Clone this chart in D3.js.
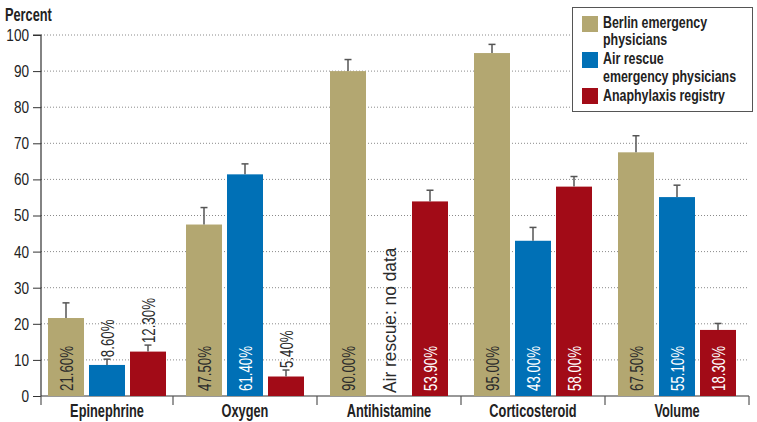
<!DOCTYPE html>
<html>
<head>
<meta charset="utf-8">
<script src="https://cdn.jsdelivr.net/npm/d3@7"></script>
<style>
  html, body { margin: 0; padding: 0; background: #fff; }
  svg { display: block; }
  text { font-family: "Liberation Sans", Arial, "Helvetica", sans-serif; }
</style>
</head>
<body>
<script>
// ---- data ----
const categories = ["Epinephrine", "Oxygen", "Antihistamine", "Corticosteroid", "Volume"];
const seriesNames = ["Berlin emergency physicians", "Air rescue emergency physicians", "Anaphylaxis registry"];
const legendLines = [["Berlin emergency", "physicians"], ["Air rescue", "emergency physicians"], ["Anaphylaxis registry"]];
const berlinValues = [21.6, 47.5, 90.0, 95.0, 67.5];
const airValues = [8.6, 61.4, null, 43.0, 55.1];
const registryValues = [12.3, 5.4, 53.9, 58.0, 18.3];
const berlinUpper = [25.8, 52.2, 93.2, 97.4, 72.1];
const airUpper = [10.2, 64.3, null, 46.7, 58.4];
const registryUpper = [14.1, 7.2, 57.0, 60.8, 20.1];
const yTicks = [0, 10, 20, 30, 40, 50, 60, 70, 80, 90, 100];
const noDataLabel = "Air rescue: no data";

const colors = ["#b3a771", "#0070b6", "#a20b17"];
const labelColors = ["#2b2b2b", "#ffffff", "#ffffff"];

const W = 757, H = 422;
const svg = d3.select("body").append("svg").attr("width", W).attr("height", H);

// condensed-looking text helper: horizontal scale along the text direction
function addText(parent, x, y, str, o) {
  const rot = o.rotate || 0;
  const sx = o.sx || 0.8;
  return parent.append("text")
    .attr("transform", `translate(${x},${y}) rotate(${rot}) scale(${sx},1)`)
    .attr("text-anchor", o.anchor || "start")
    .attr("font-size", o.size || 16)
    .attr("font-weight", o.weight || "normal")
    .attr("fill", o.fill || "#222")
    .text(str);
}

const axisLeft = 41, axisRight = 749;
const y = d3.scaleLinear().domain([0, 100]).range([396, 35]);
const x0 = d3.scaleBand().domain(categories).range([29, axisRight]).padding(0);
const bw = x0.bandwidth();
const groupCenter = c => (Math.max(x0(c), axisLeft) + x0(c) + bw) / 2;
const groupWidth = 118;
const x1 = d3.scaleBand().domain(seriesNames).range([-groupWidth / 2, groupWidth / 2]).paddingInner(5 / 41).paddingOuter(0);

// gridlines
svg.append("g").selectAll("line").data(yTicks.filter(t => t > 0)).join("line")
  .attr("x1", axisLeft).attr("x2", axisRight)
  .attr("y1", d => y(d)).attr("y2", d => y(d))
  .attr("stroke", "#8a8a8a").attr("stroke-width", 1).attr("stroke-dasharray", "1,2");

// y axis
const tickSx = 0.8;
const yAxis = d3.axisLeft(y).tickValues(yTicks).tickSize(8).tickPadding(4);
const gy = svg.append("g").attr("transform", `translate(${axisLeft},0)`).call(yAxis);
gy.select(".domain").attr("stroke", "#333").attr("stroke-width", 1.2).attr("d", `M-8,${y(100)}H0V${y(0)}`);
gy.selectAll(".tick line").attr("stroke", "#333");
gy.selectAll(".tick text").attr("font-size", 17).attr("fill", "#222")
  .style("font-family", '"Liberation Sans", Arial, sans-serif')
  .attr("x", -12 / tickSx).attr("transform", `scale(${tickSx},1)`);

addText(svg, 5, 21, "Percent", { size: 17.5, weight: "bold", sx: 0.73 });

// x axis
const gx = svg.append("g");
gx.append("line").attr("x1", axisLeft).attr("x2", axisRight).attr("y1", y(0)).attr("y2", y(0))
  .attr("stroke", "#333").attr("stroke-width", 1.2);
const boundaries = [axisLeft].concat(categories.map(c => x0(c) + bw));
gx.selectAll("line.tk").data(boundaries).join("line").attr("class", "tk")
  .attr("x1", d => d).attr("x2", d => d).attr("y1", y(0)).attr("y2", y(0) + 9)
  .attr("stroke", "#555").attr("stroke-width", 1.2);
categories.forEach(c => addText(gx, groupCenter(c), 417, c, { size: 17.5, weight: "bold", anchor: "middle", sx: 0.73 }));

// bars
const seriesVals = [berlinValues, airValues, registryValues];
const seriesUp = [berlinUpper, airUpper, registryUpper];
const rows = [];
categories.forEach((c, i) => {
  seriesNames.forEach((s, j) => {
    rows.push({ c, s, j, v: seriesVals[j][i], up: seriesUp[j][i] });
  });
});

const gb = svg.append("g");
gb.selectAll("rect").data(rows.filter(r => r.v != null)).join("rect")
  .attr("x", r => groupCenter(r.c) + x1(r.s))
  .attr("width", x1.bandwidth())
  .attr("y", r => y(r.v))
  .attr("height", r => y(0) - y(r.v))
  .attr("fill", r => colors[r.j]);

// error bars
const ge = svg.append("g").attr("stroke", "#555").attr("stroke-width", 1.5);
rows.filter(r => r.v != null).forEach(r => {
  const cx = groupCenter(r.c) + x1(r.s) + x1.bandwidth() / 2;
  ge.append("line").attr("x1", cx).attr("x2", cx).attr("y1", y(r.v)).attr("y2", y(r.up));
  ge.append("line").attr("x1", cx - 3.5).attr("x2", cx + 3.5).attr("y1", y(r.up)).attr("y2", y(r.up));
});

// value labels
const fmt = v => v.toFixed(2) + "%";
rows.forEach(r => {
  const cx = groupCenter(r.c) + x1(r.s) + x1.bandwidth() / 2;
  if (r.v == null) {
    addText(svg, cx + 6.5, y(0) - 3, noDataLabel, { size: 17.5, sx: 0.99, rotate: -90, fill: "#2b2b2b" });
  } else if (r.v < 15) {
    addText(svg, cx + 6.5, y(r.up) - 2, fmt(r.v), { size: 17.5, sx: 0.76, rotate: -90, fill: "#2b2b2b" });
  } else {
    addText(svg, cx + 6.5, y(0) - 5, fmt(r.v), { size: 17.5, sx: 0.76, rotate: -90, fill: labelColors[r.j] });
  }
});

// legend
const lg = svg.append("g");
lg.append("rect").attr("x", 572.5).attr("y", 7.5).attr("width", 180).attr("height", 104)
  .attr("fill", "#fff").attr("stroke", "#555").attr("stroke-width", 1);
const swY = [16, 52, 88];
const lineY = [[28, 45], [64, 82], [101]];
seriesNames.forEach((s, j) => {
  lg.append("rect").attr("x", 582).attr("y", swY[j]).attr("width", 16).attr("height", 16).attr("fill", colors[j]);
  legendLines[j].forEach((ln, k) => {
    addText(lg, 603, lineY[j][k], ln, { size: 17, weight: "bold", sx: 0.73 });
  });
});
</script>
</body>
</html>
